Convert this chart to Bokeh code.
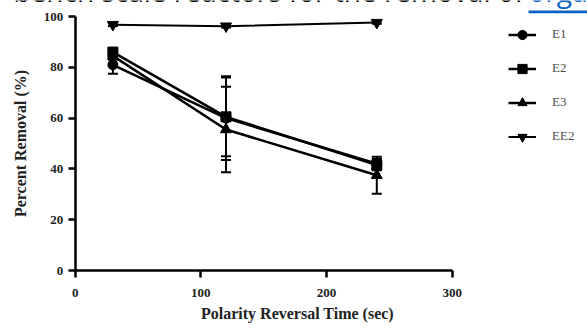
import math
from bokeh.plotting import figure
from bokeh.models import (Range1d, FixedTicker, Whisker, ColumnDataSource, Legend,
                          LegendItem, Label, BoxAnnotation, TeeHead)
from bokeh.embed import file_html
from bokeh.resources import INLINE

# ---------------- data ----------------
times = [30, 120, 240]
e1 = [81.0, 60.0, 42.0]
e1_err = [3.5, 16.5, 2.0]
e2 = [86.0, 60.5, 41.5]
e2_err = [1.5, 15.5, 2.0]
e3 = [84.5, 55.5, 37.5]
e3_err = [1.5, 16.8, 7.3]
ee2 = [96.8, 96.2, 97.6]
ee2_err = [0.5, 0.5, 0.5]
series_names = ["E1", "E2", "E3", "EE2"]
series_markers = ["circle", "square", "triangle", "inverted_triangle"]
x_ticks = [0, 100, 200, 300]
y_ticks = [0, 20, 40, 60, 80, 100]
caption_black = "bench scale reactors for the removal of "
caption_link = "organic"
x_title = "Polarity Reversal Time (sec)"
y_title = "Percent Removal (%)"

# ---------------- layout ----------------
W, H = 587, 330
AX_L, AX_R, AX_T, AX_B = 74.7, 451.7, 16, 270   # pixel box of the 0..300 x 0..100 axes
XMAX, YMAX = 300, 100


def dx(px):
    return (px - AX_L) / (AX_R - AX_L) * XMAX


def dy(py):
    return (AX_B - py) / (AX_B - AX_T) * YMAX


p = figure(width=W, height=H, x_range=Range1d(dx(0), dx(W)), y_range=Range1d(dy(H), dy(0)),
           output_backend="svg", toolbar_location=None,
           min_border_left=0, min_border_right=0, min_border_top=0, min_border_bottom=0)
p.outline_line_color = None
p.xgrid.visible = False
p.ygrid.visible = False
p.background_fill_color = "white"

for ax in (p.xaxis, p.yaxis):
    ax.fixed_location = 0
    ax.axis_line_width = 2.5
    ax.axis_line_color = "black"
    ax.major_tick_line_width = 2.5
    ax.major_tick_line_color = "black"
    ax.major_tick_in = 0
    ax.major_tick_out = 7
    ax.minor_tick_line_color = None
    ax.major_label_text_font = "Liberation Serif"
    ax.major_label_text_font_style = "bold"
    ax.major_label_text_font_size = "13px"
    ax.major_label_text_color = "#222222"

p.xaxis.ticker = FixedTicker(ticks=x_ticks)
p.yaxis.ticker = FixedTicker(ticks=y_ticks)
p.xaxis.bounds = (0, XMAX)
p.yaxis.bounds = (0, YMAX)
p.xaxis.major_label_standoff = 11
p.yaxis.major_label_standoff = 5

title_style = dict(text_font="Liberation Serif", text_font_style="bold",
                   text_font_size="16px", text_color="#222222",
                   text_align="center", text_baseline="middle",
                   x_units="canvas", y_units="canvas")
p.add_layout(Label(x=297, y=313, text=x_title, **title_style))
p.add_layout(Label(x=20, y=143, text=y_title, angle=math.pi / 2, **title_style))

# caption (cut off at top)
p.add_layout(Label(x=13, y=-10, x_units="canvas", y_units="canvas", text=caption_black,
                   text_align="left", text_baseline="alphabetic", text_font="Open Sans",
                   text_font_size="28px", text_color="black"))
p.add_layout(Label(x=528, y=-10, x_units="canvas", y_units="canvas", text=caption_link,
                   text_align="left", text_baseline="alphabetic", text_font="Open Sans",
                   text_font_size="28px", text_color="#0b62c4"))
p.add_layout(BoxAnnotation(left=528, right=W + 5, top=10, bottom=12.7,
                           left_units="canvas", right_units="canvas",
                           top_units="canvas", bottom_units="canvas",
                           fill_color="#0b62c4", fill_alpha=1, line_color=None))

# ---------------- series ----------------
all_vals = [e1, e2, e3, ee2]
all_errs = [e1_err, e2_err, e3_err, ee2_err]
line_widths = [2.5, 2.5, 2.5, 2.0]
items = []
for name, mk, vals, errs, lw in zip(series_names, series_markers, all_vals, all_errs, line_widths):
    lr = p.line(times, vals, line_width=lw, line_color="black")
    src = ColumnDataSource(dict(x=times,
                                upper=[v + e for v, e in zip(vals, errs)],
                                lower=[v - e for v, e in zip(vals, errs)]))
    p.add_layout(Whisker(base="x", upper="upper", lower="lower", source=src,
                         line_width=2, line_color="black",
                         upper_head=TeeHead(size=10, line_width=2, line_color="black"),
                         lower_head=TeeHead(size=10, line_width=2, line_color="black")))
    sz = 10 if mk in ("circle", "square") else 11
    sr = p.scatter(times, vals, marker=mk, size=sz, fill_color="black", line_color="black")
    items.append(LegendItem(label=name, renderers=[lr, sr]))

legend = Legend(items=items, location=(508, H - 147.8),
                orientation="vertical", glyph_width=28, glyph_height=23,
                label_height=23, spacing=11, label_standoff=16, padding=0, margin=0,
                label_text_font="Liberation Serif", label_text_font_size="13px",
                label_text_color="#4d4d4d", border_line_color=None,
                background_fill_alpha=0)
p.add_layout(legend)

open("out.html", "w").write(file_html(p, INLINE))
